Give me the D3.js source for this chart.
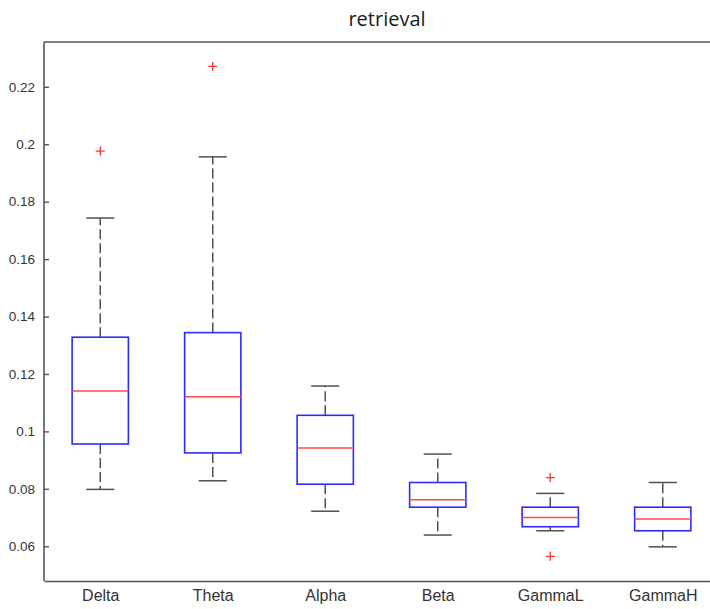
<!DOCTYPE html>
<html>
<head>
<meta charset="utf-8">
<script src="https://cdn.jsdelivr.net/npm/d3@7"></script>
<style>
  body { margin: 0; background: #fff; }
  svg { display: block; }
</style>
</head>
<body>
<svg id="chart" width="710" height="609"></svg>
<script>
// Band names along the x axis
const bands = ['Delta', 'Theta', 'Alpha', 'Beta', 'GammaL', 'GammaH'];

// Box statistics
const lowerWhisker = [0.0798, 0.0828, 0.0722, 0.0639, 0.0654, 0.0598];
const q1           = [0.0956, 0.0925, 0.0816, 0.0736, 0.0668, 0.0654];
const median       = [0.1141, 0.1121, 0.0942, 0.0762, 0.0700, 0.0695];
const q3           = [0.1328, 0.1344, 0.1056, 0.0822, 0.0736, 0.0736];
const upperWhisker = [0.1743, 0.1956, 0.1158, 0.0921, 0.0784, 0.0822];
const outliers     = [[0.1976], [0.2271], [], [], [0.0839, 0.0565], []];

const yTicks = [0.06, 0.08, 0.1, 0.12, 0.14, 0.16, 0.18, 0.2, 0.22];

const svg = d3.select('#chart');
const plotLeft = 44, plotRight = 719, plotTop = 42, plotBottom = 581;

const x = d3.scaleLinear().domain([0.5, 6.5]).range([plotLeft, plotRight]);
const y = d3.scaleLinear().domain([0.0479, 0.2356]).range([plotBottom, plotTop]);

const boxes = bands.map((name, i) => ({
    name, pos: i + 1,
    lo: lowerWhisker[i], q1: q1[i], med: median[i], q3: q3[i], hi: upperWhisker[i],
    out: outliers[i]
}));

// Title
svg.append('text')
    .attr('x', 387)
    .attr('y', 26)
    .attr('text-anchor', 'middle')
    .attr('font-family', '"Open Sans", "Noto Sans", sans-serif')
    .attr('font-size', 20)
    .attr('fill', '#1a1a1a')
    .text('retrieval');

// Whiskers (dashed), drawn from the box edge outward
const g = svg.append('g');
const whisk = g.selectAll('g.box').data(boxes).enter().append('g').attr('class', 'box');

whisk.append('line')
    .attr('x1', d => x(d.pos)).attr('x2', d => x(d.pos))
    .attr('y1', d => y(d.q3)).attr('y2', d => y(d.hi))
    .attr('stroke', '#505050').attr('stroke-width', 1.5)
    .attr('stroke-dasharray', '10,4');
whisk.append('line')
    .attr('x1', d => x(d.pos)).attr('x2', d => x(d.pos))
    .attr('y1', d => y(d.q1)).attr('y2', d => y(d.lo))
    .attr('stroke', '#505050').attr('stroke-width', 1.5)
    .attr('stroke-dasharray', '10,4');

// Caps
['hi', 'lo'].forEach(k => {
    whisk.append('line')
        .attr('x1', d => x(d.pos - 0.125)).attr('x2', d => x(d.pos + 0.125))
        .attr('y1', d => y(d[k])).attr('y2', d => y(d[k]))
        .attr('stroke', '#505050').attr('stroke-width', 1.5);
});

// Boxes
whisk.append('rect')
    .attr('x', d => x(d.pos - 0.25))
    .attr('width', d => x(d.pos + 0.25) - x(d.pos - 0.25))
    .attr('y', d => y(d.q3))
    .attr('height', d => y(d.q1) - y(d.q3))
    .attr('fill', 'none')
    .attr('stroke', '#2b2bff').attr('stroke-width', 1.6);

// Medians
whisk.append('line')
    .attr('x1', d => x(d.pos - 0.25)).attr('x2', d => x(d.pos + 0.25))
    .attr('y1', d => y(d.med)).attr('y2', d => y(d.med))
    .attr('stroke', '#ff4a4a').attr('stroke-width', 1.5);

// Outliers as red plus signs
whisk.selectAll('path.out')
    .data(d => d.out.map(v => ({ pos: d.pos, v })))
    .enter().append('path')
    .attr('class', 'out')
    .attr('d', d => {
        const cx = x(d.pos), cy = y(d.v), r = 4.5;
        return `M${cx - r},${cy}H${cx + r}M${cx},${cy - r}V${cy + r}`;
    })
    .attr('stroke', '#ff3030').attr('stroke-width', 1.3);

// Frame: top line (right side falls outside the window)
svg.append('line')
    .attr('x1', plotLeft).attr('x2', plotRight).attr('y1', plotTop).attr('y2', plotTop)
    .attr('stroke', '#555').attr('stroke-width', 1.6);

// Y axis with inward ticks
const yAxis = d3.axisLeft(y).tickValues(yTicks).tickSizeInner(-5).tickSizeOuter(0)
    .tickPadding(9).tickFormat(d => String(+d.toFixed(2)));
const ya = svg.append('g').attr('transform', `translate(${plotLeft},0)`).call(yAxis);
ya.select('.domain').attr('stroke', '#555').attr('stroke-width', 1.6)
    .attr('d', `M0,${plotTop}V${plotBottom}`);
ya.selectAll('.tick line').attr('stroke', '#555').attr('stroke-width', 1.4);
ya.selectAll('.tick text')
    .attr('font-family', '"Liberation Sans", Arial, sans-serif')
    .attr('font-size', 13.5).attr('fill', '#333');

// X axis: labels only
const xAxis = d3.axisBottom(x).tickValues(boxes.map(d => d.pos))
    .tickFormat((d, i) => bands[i]).tickSize(0).tickPadding(9);
const xa = svg.append('g').attr('transform', `translate(0,${plotBottom})`).call(xAxis);
xa.select('.domain').attr('stroke', '#555').attr('stroke-width', 1.6);
xa.selectAll('.tick text')
    .attr('font-family', '"Liberation Sans", Arial, sans-serif')
    .attr('font-size', 16).attr('fill', '#333');
</script>
</body>
</html>
